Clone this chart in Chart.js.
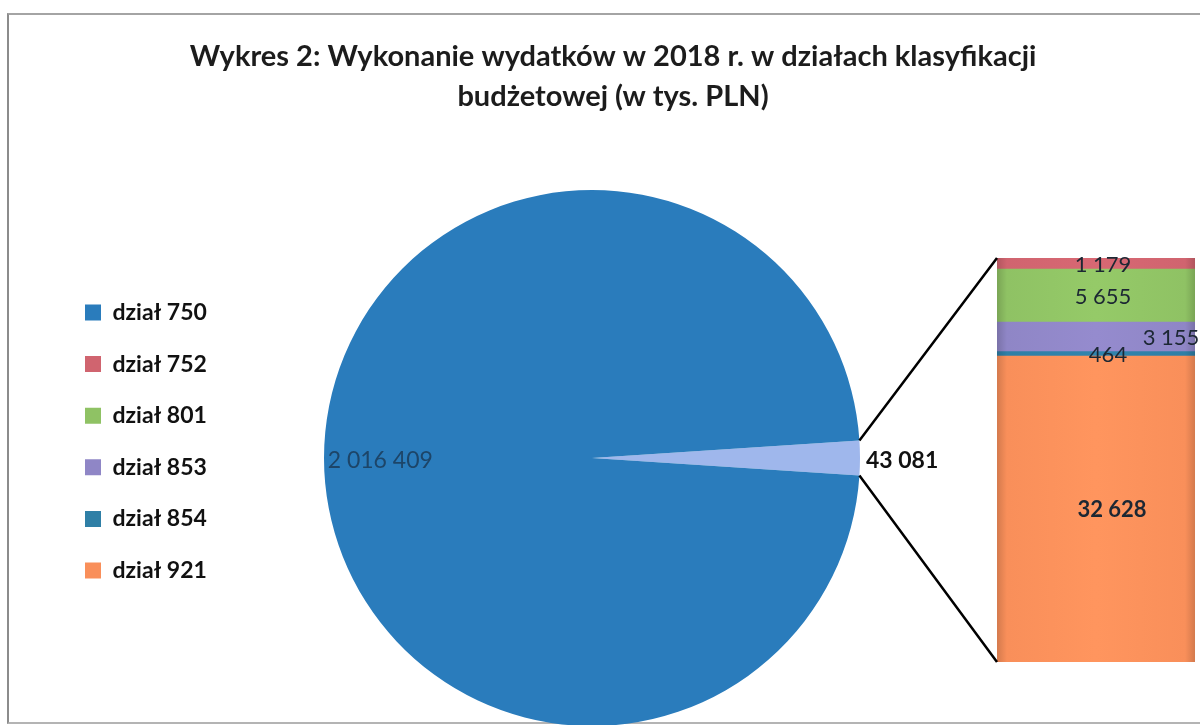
<!DOCTYPE html>
<html><head><meta charset="utf-8">
<script src="https://cdn.jsdelivr.net/npm/chart.js@4.4.1/dist/chart.umd.min.js"></script>
<style>
html,body{margin:0;padding:0;background:#fff;}
#wrap{position:relative;width:1200px;height:725px;overflow:hidden;background:#fff;}
#frame{position:absolute;left:7px;top:13px;width:1210px;height:707px;border-top:2px solid #a4a4a4;border-left:2px solid #8c8c8c;border-bottom:2px solid #b4b4b4;}
canvas{position:absolute;left:0;top:0;}
</style></head><body>
<div id="wrap"><div id="frame"></div>
<canvas id="pie" width="1200" height="800"></canvas>
<canvas id="bar" width="1200" height="725"></canvas>
</div>
<script>
// ---- data ----
const titleLines = ['Wykres 2: Wykonanie wydatków w 2018 r. w działach klasyfikacji', 'budżetowej (w tys. PLN)'];
const categories = ['dział 750', 'dział 752', 'dział 801', 'dział 853', 'dział 854', 'dział 921'];
const values = [2016409, 1179, 5655, 3155, 464, 32628];
const colors = ['#2a7cbc', '#d0646f', '#8fc264', '#8f86c6', '#2f7fa6', '#f98f5a'];
const otherLabel = 'pozostałe działy';
const otherColor = '#9fb7ec';

// ---- derived ----
const fmt = v => String(v).replace(/\B(?=(\d{3})+(?!\d))/g, ' ');
const otherTotal = values.slice(1).reduce((a, b) => a + b, 0);
const grandTotal = values[0] + otherTotal;
const pieLabels = [otherLabel, categories[0]];
const pieValues = [otherTotal, values[0]];
const pieColors = [otherColor, colors[0]];
const barOrder = [5, 4, 3, 2, 1]; // stacked bottom -> top
const rotation = 90 - 180 * otherTotal / grandTotal;

const FONT = 'Lato, "DejaVu Sans", sans-serif';
Chart.defaults.font.family = FONT;

// legend geometry
const LEG_FS = 23, LEG_BOX = 16, LEG_PAD = 28.6;
const PAD_L = 56.4, PAD_R = 30.4, PIE_CX = 592;
const mctx = document.createElement('canvas').getContext('2d');
mctx.font = 'bold ' + LEG_FS + 'px ' + FONT;
const maxTextW = Math.max(...categories.map(c => mctx.measureText(c).width));
const legendW = LEG_PAD + LEG_BOX + LEG_FS / 2 + maxTextW + 10;
const spacerW = PAD_L + legendW + (1200 - PAD_R) - 2 * PIE_CX;

function shade(hex, f) {
  const n = parseInt(hex.slice(1), 16);
  const r = (n >> 16) & 255, g = (n >> 8) & 255, b = n & 255;
  const c = v => Math.max(0, Math.min(255, Math.round(v * f)));
  return 'rgb(' + c(r) + ',' + c(g) + ',' + c(b) + ')';
}

const pieLabelPlugin = {
  id: 'pieLabelPlugin',
  afterDatasetsDraw(chart) {
    const ctx = chart.ctx;
    chart.getDatasetMeta(0).data.forEach((arc, i) => {
      const p = arc.getProps(['x', 'y', 'startAngle', 'endAngle', 'outerRadius'], true);
      const mid = (p.startAngle + p.endAngle) / 2;
      ctx.save();
      ctx.textBaseline = 'middle';
      if (i === 1) {
        const r = p.outerRadius * 0.79;
        ctx.font = '23px ' + FONT;
        ctx.fillStyle = '#1d4568';
        ctx.textAlign = 'center';
        ctx.fillText(fmt(pieValues[i]), p.x + r * Math.cos(mid), p.y + 3 + r * Math.sin(mid));
      } else {
        const r = p.outerRadius + 6;
        ctx.font = 'bold 23px ' + FONT;
        ctx.fillStyle = '#111';
        ctx.textAlign = 'left';
        ctx.fillText(fmt(pieValues[i]), p.x + r * Math.cos(mid), p.y + 3 + r * Math.sin(mid));
      }
      ctx.restore();
    });
  }
};

const pieChart = new Chart(document.getElementById('pie'), {
  type: 'pie',
  data: {
    labels: pieLabels,
    datasets: [{ data: pieValues, backgroundColor: pieColors, borderWidth: 0, hoverOffset: 0, offset: 0 }]
  },
  options: {
    responsive: false, animation: false, devicePixelRatio: 1, events: [],
    rotation: rotation,
    layout: { padding: { left: PAD_L, right: PAD_R, top: 0, bottom: 74 } },
    plugins: {
      title: {
        display: true, text: titleLines, color: '#1c1c1c',
        font: { family: FONT, size: 29, weight: 'bold', lineHeight: 40 / 29 },
        padding: { top: 37, bottom: 73 }
      },
      subtitle: {
        display: true, position: 'right', text: '',
        font: { size: 1, lineHeight: 1 }, padding: { top: spacerW - 1, bottom: 0 }
      },
      legend: {
        display: true, position: 'left', fullSize: false, align: 'start',
        title: { display: true, text: '', font: { size: 10, lineHeight: 1.2 }, padding: 35.2 },
        labels: {
          boxWidth: LEG_BOX, boxHeight: LEG_BOX, padding: LEG_PAD, color: '#111',
          font: { family: FONT, size: LEG_FS, weight: 'bold' },
          generateLabels: () => categories.map((c, i) => ({
            text: c, fillStyle: colors[i], strokeStyle: colors[i], fontColor: '#111',
            lineWidth: 0, hidden: false, index: i
          }))
        }
      },
      tooltip: { enabled: false }
    }
  },
  plugins: [pieLabelPlugin]
});

const barOffsets = [16, 12, 75, 7, 7]; // label x offsets (bottom -> top)

const barPlugin = {
  id: 'barPlugin',
  afterDatasetsDraw(chart) {
    const ctx = chart.ctx;
    // connector lines from the pie slice to the bar
    const arc = pieChart.getDatasetMeta(0).data[0];
    const p = arc.getProps(['x', 'y', 'startAngle', 'endAngle', 'outerRadius'], true);
    const nDs = chart.data.datasets.length;
    const bottomBar = chart.getDatasetMeta(0).data[0];
    const topBar = chart.getDatasetMeta(nDs - 1).data[0];
    const left = topBar.x - topBar.width / 2;
    ctx.save();
    ctx.strokeStyle = '#000';
    ctx.lineWidth = 2.5;
    ctx.beginPath();
    ctx.moveTo(p.x + p.outerRadius * Math.cos(p.startAngle), p.y + p.outerRadius * Math.sin(p.startAngle));
    ctx.lineTo(left, topBar.y);
    ctx.moveTo(p.x + p.outerRadius * Math.cos(p.endAngle), p.y + p.outerRadius * Math.sin(p.endAngle));
    ctx.lineTo(left, bottomBar.base);
    ctx.stroke();
    // value labels
    ctx.textAlign = 'center';
    ctx.textBaseline = 'middle';
    chart.data.datasets.forEach((ds, k) => {
      const el = chart.getDatasetMeta(k).data[0];
      const v = ds.data[0];
      ctx.font = (v > 10000 ? 'bold ' : '') + '22px ' + FONT;
      ctx.fillStyle = '#1c2733';
      ctx.fillText(fmt(v), el.x + barOffsets[k], (el.y + el.base) / 2 + 1);
    });
    ctx.restore();
  }
};

function barFill(base) {
  return (c) => {
    const area = c.chart.chartArea;
    if (!area) return base;
    const g = c.chart.ctx.createLinearGradient(area.left, 0, area.right, 0);
    g.addColorStop(0, shade(base, 0.85));
    g.addColorStop(0.05, base);
    g.addColorStop(0.5, shade(base, 1.04));
    g.addColorStop(0.95, base);
    g.addColorStop(1, shade(base, 0.85));
    return g;
  };
}

const barChart = new Chart(document.getElementById('bar'), {
  type: 'bar',
  data: {
    labels: [''],
    datasets: barOrder.map(i => ({
      label: categories[i], data: [values[i]], backgroundColor: barFill(colors[i]),
      borderWidth: 0, barPercentage: 1, categoryPercentage: 1, stack: 's'
    }))
  },
  options: {
    responsive: false, animation: false, devicePixelRatio: 1, events: [],
    layout: { padding: { left: 997, right: 5, top: 258, bottom: 63 } },
    scales: {
      x: { display: false, stacked: true },
      y: { display: false, stacked: true, min: 0, max: otherTotal }
    },
    plugins: { legend: { display: false }, title: { display: false }, tooltip: { enabled: false } }
  },
  plugins: [barPlugin]
});
</script>
</body></html>
